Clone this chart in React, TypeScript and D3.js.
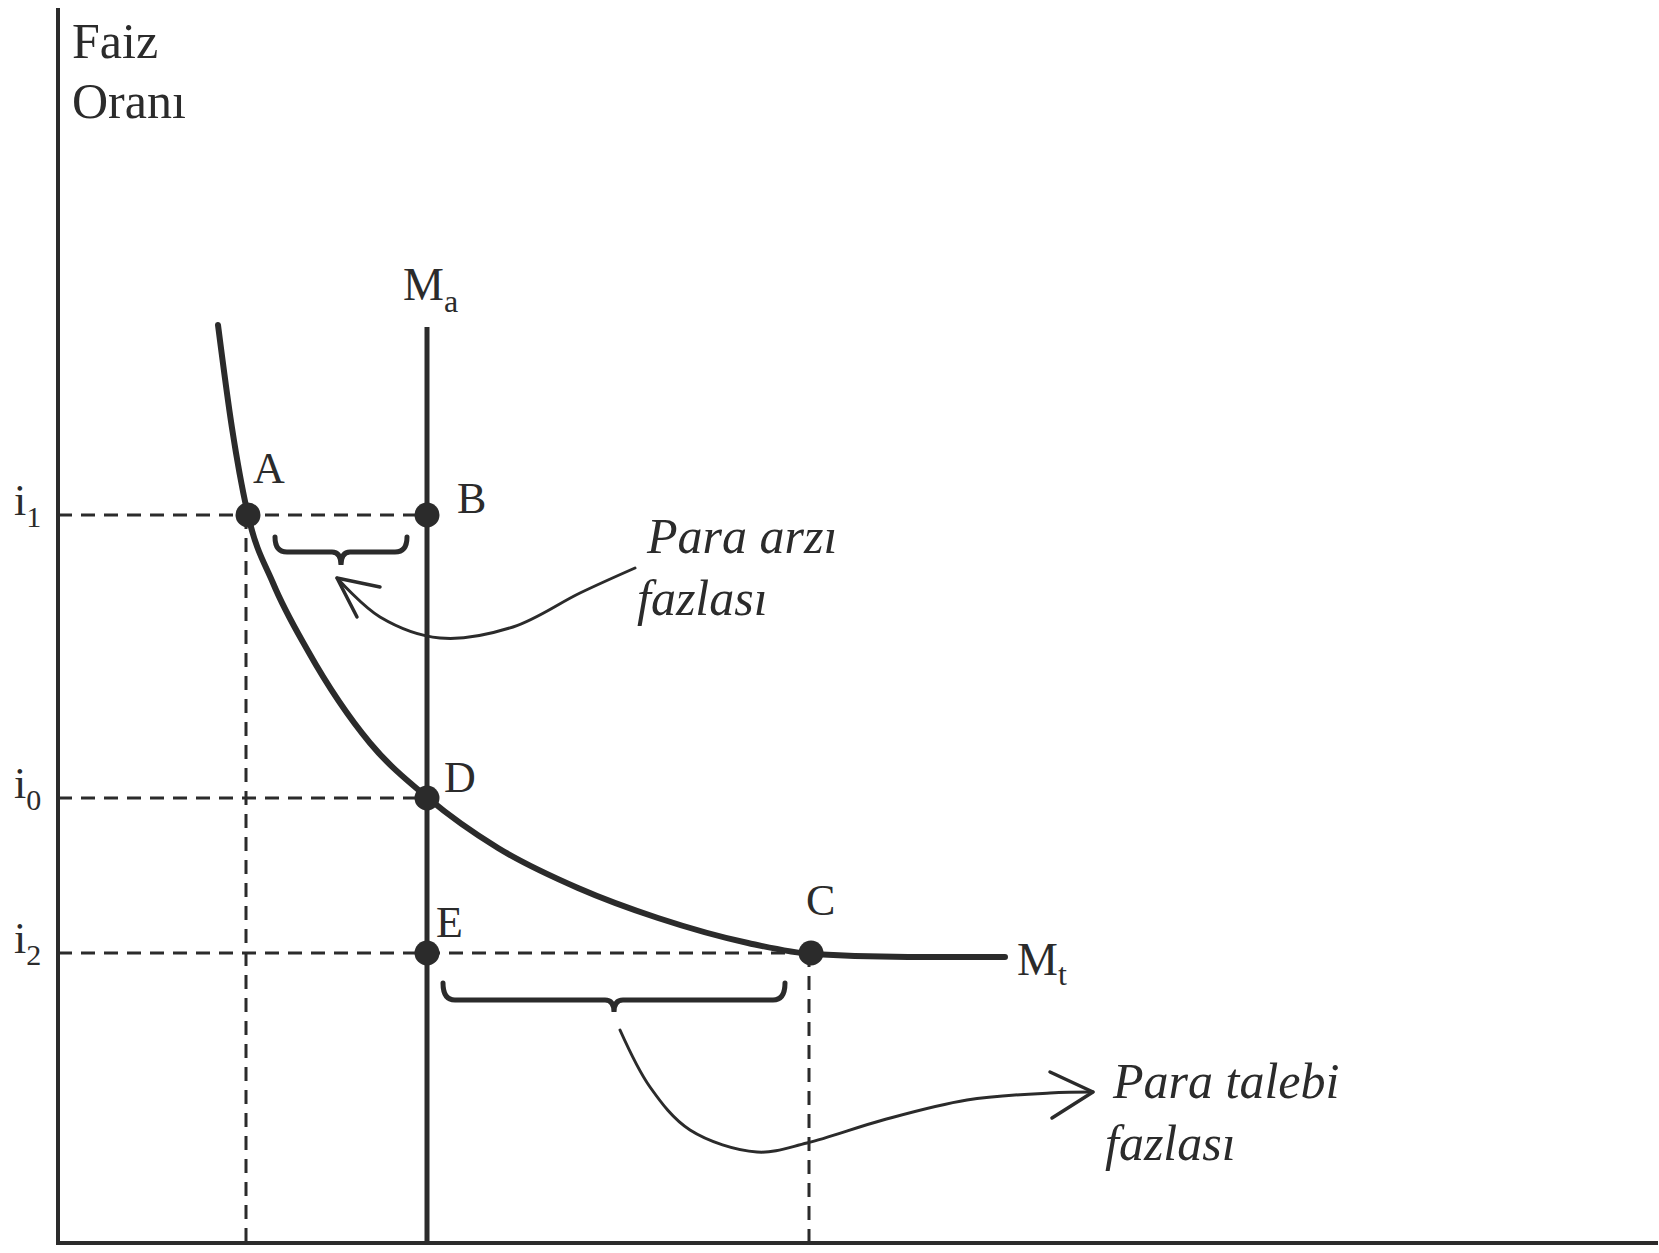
import * as d3 from "d3";

// Para piyasası: Mt (para talebi) ve Ma (para arzı)
const demandCurve: [number, number][] = [
  [1.6, 9.18],
  [1.74, 8.15],
  [1.9, 7.28],
  [2.15, 6.6],
  [2.5, 5.92],
  [3.12, 5.0],
  [3.7, 4.45],
  [4.4, 3.95],
  [5.2, 3.55],
  [6.0, 3.25],
  [6.9, 3.0],
  [7.54, 2.89],
  [8.5, 2.86],
  [9.47, 2.86],
];

const supplyQ = 3.69;
const supplyTop = 9.16;

const rateNames = ["1", "0", "2"];
const rateValues = [7.28, 4.45, 2.9];

const pointNames = ["A", "B", "D", "E", "C"];
const pointQ = [1.9, 3.69, 3.69, 3.69, 7.53];
const pointI = [7.28, 7.28, 4.45, 2.9, 2.9];

// dashed guides: right end of each rate line, then drops to the q axis
const guideEnds = [3.69, 3.69, 7.53];
const dropQ = [1.88, 7.51];
const dropTop = [7.28, 2.9];

const upperBrace = { q0: 2.17, q1: 3.49, iEnd: 7.06, iBar: 6.91, iTip: 6.78 };
const lowerBrace = { q0: 3.85, q1: 7.27, iEnd: 2.6, iBar: 2.43, iTip: 2.31 };

const upperArrow: [number, number][] = [
  [2.79, 6.65],
  [3.22, 6.26],
  [3.82, 6.05],
  [4.55, 6.16],
  [5.22, 6.5],
  [5.77, 6.75],
];
const upperWings: [number, number][] = [
  [3.22, 6.56],
  [2.99, 6.26],
];

const lowerArrow: [number, number][] = [
  [5.62, 2.13],
  [5.92, 1.56],
  [6.32, 1.13],
  [6.99, 0.91],
  [7.49, 1.0],
  [8.25, 1.23],
  [9.09, 1.43],
  [9.92, 1.5],
  [10.35, 1.51],
];
const lowerWings: [number, number][] = [
  [9.92, 1.71],
  [9.94, 1.25],
];

const W = 1659;
const H = 1253;
const ink = "#2b2b2b";
const serif = "'Liberation Serif', 'DejaVu Serif', serif";

// offsets of the point letters from their dots
const labelOffsets: Record<string, [number, number]> = {
  A: [5, -32],
  B: [30, -2],
  D: [17, -6],
  E: [9, -16],
  C: [-5, -38],
};

const App = () => {
  const x = d3.scaleLinear().domain([0, 16]).range([58, 1658]);
  const y = d3.scaleLinear().domain([0, 12.35]).range([1243, 8]);

  const toXY = (d: [number, number]): [number, number] => [x(d[0]), y(d[1])];

  const smooth = d3.line().curve(d3.curveMonotoneX);
  const flowing = d3.line().curve(d3.curveCatmullRom.alpha(0.5));

  const brace = (b: typeof upperBrace) => {
    const x0 = x(b.q0);
    const x1 = x(b.q1);
    const ye = y(b.iEnd);
    const yb = y(b.iBar);
    const yt = y(b.iTip);
    const mid = (x0 + x1) / 2;
    const r = 12;
    const r2 = 9;
    return `M${x0},${ye} Q${x0},${yb} ${x0 + r},${yb} L${mid - r2},${yb} Q${mid},${yb} ${mid},${yt} Q${mid},${yb} ${mid + r2},${yb} L${x1 - r},${yb} Q${x1},${yb} ${x1},${ye}`;
  };

  const arrowHead = (tip: [number, number], wings: [number, number][]) =>
    wings
      .map((w) => `M${x(w[0])},${y(w[1])} L${x(tip[0])},${y(tip[1])}`)
      .join(" ");

  return (
    <svg
      width={W}
      height={H}
      style={{ position: "absolute", left: 0, top: 0, background: "#fff" }}
      fontFamily={serif}
    >
      {/* dashed guides */}
      <g stroke={ink} strokeWidth={3} strokeDasharray="14,9" fill="none">
        {rateValues.map((r, i) => (
          <line key={i} x1={x(0)} x2={x(guideEnds[i])} y1={y(r)} y2={y(r)} />
        ))}
        {dropQ.map((q, i) => (
          <line key={"d" + i} x1={x(q)} x2={x(q)} y1={y(dropTop[i])} y2={y(0)} />
        ))}
      </g>

      {/* axes */}
      <line x1={x(0)} x2={x(0)} y1={y(12.35)} y2={y(0)} stroke={ink} strokeWidth={4} />
      <line x1={x(0) - 2} x2={x(16)} y1={y(0)} y2={y(0)} stroke={ink} strokeWidth={4} />

      {/* money supply */}
      <line
        x1={x(supplyQ)}
        x2={x(supplyQ)}
        y1={y(supplyTop)}
        y2={y(0)}
        stroke={ink}
        strokeWidth={5}
      />

      {/* money demand */}
      <path
        d={smooth(demandCurve.map(toXY)) ?? ""}
        fill="none"
        stroke={ink}
        strokeWidth={6}
        strokeLinecap="round"
      />

      {/* braces */}
      <path d={brace(upperBrace)} fill="none" stroke={ink} strokeWidth={5} strokeLinecap="round" />
      <path d={brace(lowerBrace)} fill="none" stroke={ink} strokeWidth={5} strokeLinecap="round" />

      {/* arrows */}
      <g fill="none" stroke={ink} strokeWidth={3} strokeLinecap="round">
        <path d={flowing(upperArrow.map(toXY)) ?? ""} />
        <path d={arrowHead(upperArrow[0], upperWings)} strokeWidth={3.5} />
        <path d={flowing(lowerArrow.map(toXY)) ?? ""} />
        <path d={arrowHead(lowerArrow[lowerArrow.length - 1], lowerWings)} strokeWidth={3.5} />
      </g>

      {/* points */}
      {pointNames.map((n, i) => {
        const px = x(pointQ[i]);
        const py = y(pointI[i]);
        const [dx, dy] = labelOffsets[n];
        return (
          <g key={n}>
            <circle cx={px} cy={py} r={12.5} fill={ink} />
            <text x={px + dx} y={py + dy} fontSize={44} fill={ink}>
              {n}
            </text>
          </g>
        );
      })}

      {/* rate labels */}
      {rateValues.map((r, i) => (
        <text key={i} x={14} y={y(r)} fontSize={44} fill={ink}>
          i
          <tspan fontSize={30} dy={12}>
            {rateNames[i]}
          </tspan>
        </text>
      ))}

      {/* axis title */}
      <text x={72} y={58} fontSize={50} fill={ink}>
        Faiz
      </text>
      <text x={72} y={118} fontSize={50} fill={ink}>
        Oranı
      </text>

      {/* curve labels */}
      <text x={x(supplyQ) - 24} y={y(supplyTop) - 27} fontSize={46} fill={ink}>
        M
        <tspan fontSize={32} dy={12}>
          a
        </tspan>
      </text>
      <text
        x={x(demandCurve[demandCurve.length - 1][0]) + 12}
        y={y(2.86) + 18}
        fontSize={46}
        fill={ink}
      >
        M
        <tspan fontSize={32} dy={10}>
          t
        </tspan>
      </text>

      {/* annotations */}
      <g fontSize={50} fontStyle="italic" fill={ink}>
        <text x={647} y={553}>
          Para arzı
        </text>
        <text x={637} y={615}>
          fazlası
        </text>
        <text x={1113} y={1098}>
          Para talebi
        </text>
        <text x={1105} y={1160}>
          fazlası
        </text>
      </g>
    </svg>
  );
};

export default App;
